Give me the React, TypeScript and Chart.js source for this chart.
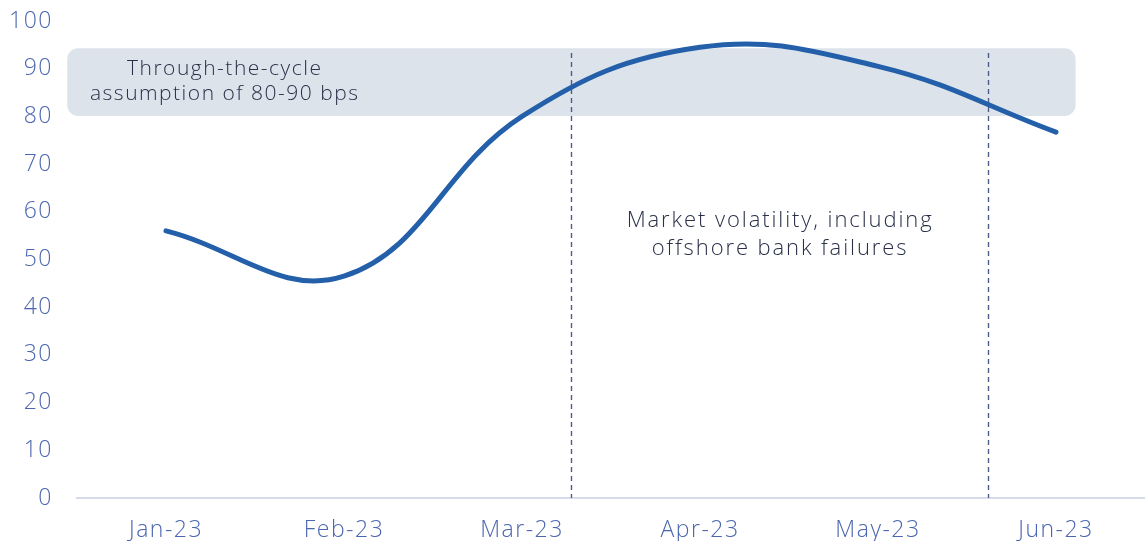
import React, { useEffect, useRef } from "react";
import { Chart, registerables } from "chart.js";

Chart.register(...registerables);

const categories = ["Jan-23", "Feb-23", "Mar-23", "Apr-23", "May-23", "Jun-23"];
const spreadBps = [56, 46.5, 80, 94.5, 90.5, 76.7];
const yTicks = [0, 10, 20, 30, 40, 50, 60, 70, 80, 90, 100];

// Annotation positions in category-index units
const bandFrom = -0.555;
const bandTo = 5.11;
const bandLow = 80.1;
const bandHigh = 94.3;
const bandText = ["Through-the-cycle", "assumption of 80-90 bps"];
const bandTextAt = 0.33;
const bandTextY = [90, 84.7];
const eventLines = [2.276, 4.619];
const eventLineTop = 93.3;
const eventText = ["Market volatility, including", "offshore bank failures"];
const eventTextAt = 3.45;
const eventTextY = [58.1, 52.3];

const FONT = "'Open Sans', Lato, sans-serif";
const TICK_COLOR = "#4a66ae";
const TEXT_COLOR = "#2a3048";

function xAt(scale: any, v: number) {
  const i = Math.floor(v);
  const p0 = scale.getPixelForValue(i);
  const p1 = scale.getPixelForValue(i + 1);
  return p0 + (v - i) * (p1 - p0);
}

const spacingPlugin = {
  id: "spacing",
  beforeDraw(chart: any) {
    (chart.ctx as any).letterSpacing = "1.5px";
  },
};

const annotationPlugin = {
  id: "annotations",
  beforeDatasetsDraw(chart: any) {
    const ctx = chart.ctx;
    const xs = chart.scales.x;
    const ys = chart.scales.y;
    const x0 = xAt(xs, bandFrom);
    const x1 = xAt(xs, bandTo);
    const y0 = ys.getPixelForValue(bandHigh);
    const y1 = ys.getPixelForValue(bandLow);
    ctx.save();
    ctx.fillStyle = "#dde3eb";
    ctx.beginPath();
    (ctx as any).roundRect(x0, y0, x1 - x0, y1 - y0, 11);
    ctx.fill();
    ctx.strokeStyle = "#4f5d8e";
    ctx.lineWidth = 1.4;
    ctx.setLineDash([5, 4]);
    for (const v of eventLines) {
      const x = Math.round(xAt(xs, v)) + 0.5;
      ctx.beginPath();
      ctx.moveTo(x, ys.getPixelForValue(eventLineTop));
      ctx.lineTo(x, ys.getPixelForValue(0));
      ctx.stroke();
    }
    ctx.setLineDash([]);
    ctx.fillStyle = TEXT_COLOR;
    ctx.textAlign = "center";
    ctx.textBaseline = "middle";
    ctx.font = "300 21px " + FONT;
    (ctx as any).letterSpacing = "1.5px";
    bandText.forEach((t, i) => {
      ctx.fillText(t, xAt(xs, bandTextAt), ys.getPixelForValue(bandTextY[i]));
    });
    ctx.font = "300 22px " + FONT;
    (ctx as any).letterSpacing = "1.9px";
    eventText.forEach((t, i) => {
      ctx.fillText(t, xAt(xs, eventTextAt), ys.getPixelForValue(eventTextY[i]));
    });
    ctx.restore();
  },
};

export default function App() {
  const ref = useRef<HTMLCanvasElement | null>(null);
  useEffect(() => {
    if (!ref.current) return;
    const chart = new Chart(ref.current, {
      type: "line",
      data: {
        labels: categories,
        datasets: [
          {
            data: spreadBps,
            borderColor: "#2360a9",
            borderWidth: 5,
            borderCapStyle: "round",
            tension: 0.4,
            pointRadius: 0,
            fill: false,
          },
        ],
      },
      options: {
        animation: false,
        responsive: false,
        maintainAspectRatio: false,
        layout: { padding: { top: 21, right: 0, bottom: 0, left: 0 } },
        plugins: { legend: { display: false }, tooltip: { enabled: false } },
        scales: {
          x: {
            offset: true,
            grid: { display: false, drawTicks: false },
            border: { display: true, color: "#d5dbe8", width: 2 },
            ticks: {
              color: TICK_COLOR,
              font: { family: FONT, size: 23, weight: "300" as any },
              padding: 19,
              maxRotation: 0,
            },
            afterFit(scale: any) {
              scale.height = 43;
            },
          },
          y: {
            min: 0,
            max: 100,
            afterBuildTicks(scale: any) {
              scale.ticks = yTicks.map((v) => ({ value: v }));
            },
            grid: { display: false, drawTicks: false },
            border: { display: false },
            ticks: {
              color: TICK_COLOR,
              font: { family: FONT, size: 23, weight: "300" as any },
              padding: 24,
            },
            afterFit(scale: any) {
              scale.width = 77;
              scale.paddingTop = 0;
              scale.paddingBottom = 0;
            },
          },
        },
      },
      plugins: [spacingPlugin, annotationPlugin],
    });
    return () => chart.destroy();
  }, []);
  return (
    <div style={{ position: "fixed", left: 0, top: 0, width: 1145, height: 541, background: "#fff" }}>
      <canvas ref={ref} width={1145} height={541} style={{ display: "block" }} />
    </div>
  );
}
